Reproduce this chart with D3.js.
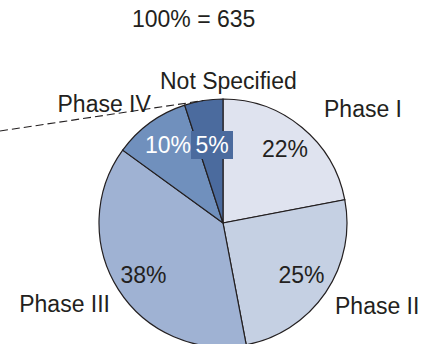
<!DOCTYPE html>
<html><head><meta charset="utf-8">
<script src="https://cdn.jsdelivr.net/npm/d3@7"></script>
<style>body{margin:0;background:#fff}svg{display:block}text{font-family:"Liberation Sans",Arial,sans-serif}</style>
</head><body>
<svg id="c" width="429" height="344"></svg>
<script>
const categories = ["Phase I","Phase II","Phase III","Phase IV","Not Specified"];
const values = [22,25,38,10,5];
const valueLabels = ["22%","25%","38%","10%","5%"];
const title = "100% = 635";
const colors = ["#dfe3ef","#c5d0e3","#9fb2d3","#7090bd","#4b6b9e"];

const svg = d3.select("#c");
const cx = 223, cy = 223, r = 124;
const g = svg.append("g").attr("transform",`translate(${cx},${cy})`);
const pie = d3.pie().sort(null).value(d=>d);
const arcs = pie(values);
const arc = d3.arc().innerRadius(0).outerRadius(r);
g.selectAll("path").data(arcs).join("path")
  .attr("d",arc).attr("fill",(d,i)=>colors[i])
  .attr("stroke","#231f20").attr("stroke-width",1.2);

// dashed line to Not Specified outer edge
const ns = arcs[4];
const mid = (ns.startAngle+ns.endAngle)/2;
const ex = cx + r*Math.sin(mid), ey = cy - r*Math.cos(mid);
svg.append("line").attr("x1",0).attr("y1",131).attr("x2",ex).attr("y2",ey)
  .attr("stroke","#231f20").attr("stroke-width",1.1).attr("stroke-dasharray","8,4");

const fs = 23;
svg.append("text").attr("x",132).attr("y",27).attr("font-size",fs).attr("fill","#231f20").text(title);

// category labels
const catPos = [
  {x:324,y:117,a:"start"},
  {x:335,y:314,a:"start"},
  {x:110,y:312,a:"end"},
  {x:57.5,y:112,a:"start"},
  {x:160,y:89,a:"start"}
];
svg.selectAll("text.cat").data(categories).join("text").attr("class","cat")
  .attr("x",(d,i)=>catPos[i].x).attr("y",(d,i)=>catPos[i].y)
  .attr("text-anchor",(d,i)=>catPos[i].a)
  .attr("font-size",fs).attr("fill","#231f20").text(d=>d);

// 5% box
svg.append("rect").attr("x",191).attr("y",131).attr("width",42).attr("height",28).attr("fill","#4b6b9e");

const valPos = [
  {x:285,y:157,c:"#231f20"},
  {x:301.5,y:283,c:"#231f20"},
  {x:143.5,y:283,c:"#231f20"},
  {x:168,y:153,c:"#fff"},
  {x:212,y:153,c:"#fff"}
];
svg.selectAll("text.val").data(valueLabels).join("text").attr("class","val")
  .attr("x",(d,i)=>valPos[i].x).attr("y",(d,i)=>valPos[i].y)
  .attr("text-anchor","middle").attr("font-size",fs).attr("fill",(d,i)=>valPos[i].c).text(d=>d);
</script>
</body></html>
